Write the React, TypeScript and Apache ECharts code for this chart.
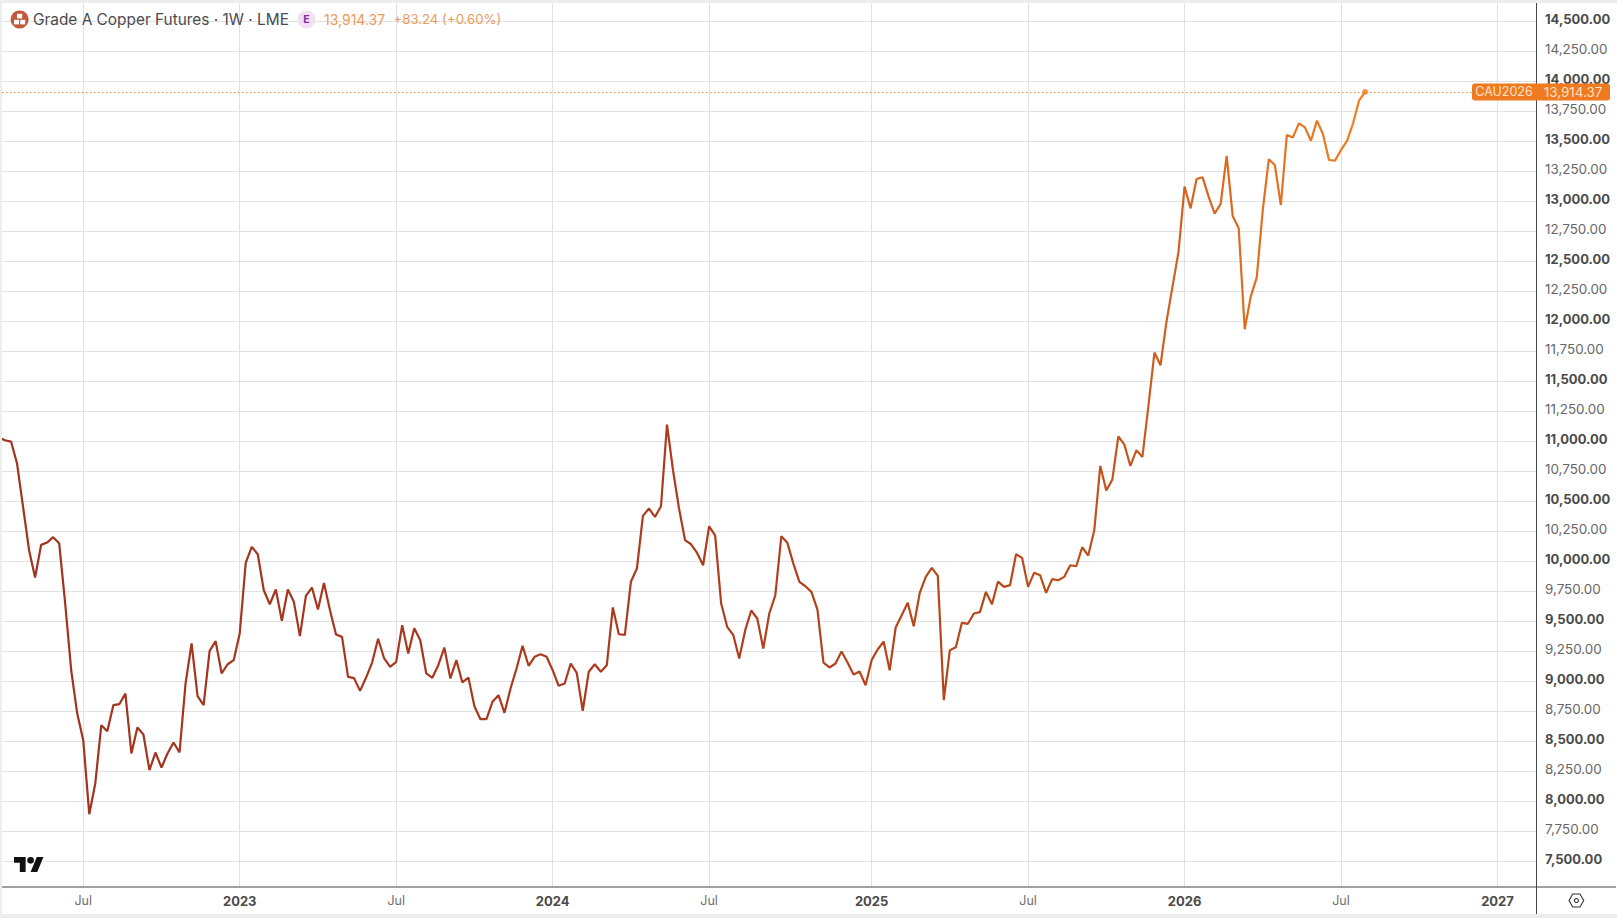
import React, { useEffect, useRef } from "react";
import * as echarts from "echarts";

const WEEK = 7 * 24 * 3600 * 1000;
const firstWeek = Date.UTC(2022, 2, 28);

// weekly closes
const closes = [
  11033, 11011, 11000, 10817, 10456, 10094, 9867, 10139, 10158, 10203, 10153, 9650, 9094, 8733, 8511,
  7894, 8150, 8636, 8586, 8803, 8811, 8900, 8400, 8617, 8558, 8261, 8408, 8283, 8400, 8492, 8408, 8983,
  9317, 8878, 8803, 9256, 9336, 9067, 9144, 9178, 9400, 9989, 10122, 10061, 9761, 9644, 9767, 9506, 9767,
  9664, 9378, 9714, 9783, 9600, 9822, 9594, 9392, 9372, 9039, 9028, 8922, 9033, 9158, 9356, 9192, 9122,
  9164, 9469, 9233, 9444, 9344, 9067, 9031, 9136, 9283, 9025, 9178, 8992, 9033, 8794, 8686, 8686, 8831,
  8886, 8739, 8942, 9108, 9297, 9131, 9206, 9228, 9206, 9094, 8964, 8983, 9150, 9072, 8756, 9081, 9144,
  9081, 9136, 9617, 9394, 9389, 9831, 9942, 10381, 10442, 10372, 10461, 11142, 10761, 10442, 10178, 10144,
  10072, 9969, 10294, 10219, 9650, 9456, 9389, 9192, 9428, 9592, 9525, 9275, 9567, 9719, 10211, 10156,
  9983, 9831, 9794, 9747, 9600, 9158, 9117, 9150, 9250, 9158, 9058, 9083, 8969, 9178, 9267, 9333, 9094,
  9450, 9553, 9656, 9461, 9739, 9872, 9947, 9881, 8844, 9261, 9286, 9489, 9481, 9567, 9578, 9747, 9644,
  9833, 9789, 9803, 10061, 10031, 9789, 9906, 9886, 9739, 9853, 9844, 9872, 9969, 9961, 10119, 10050,
  10261, 10797, 10592, 10683, 11044, 10975, 10797, 10928, 10872, 11300, 11742, 11636, 12000, 12292, 12583,
  13125, 12944, 13189, 13203, 13042, 12900, 12981, 13381, 12881, 12778, 11936, 12208, 12369, 12931, 13353,
  13306, 12972, 13556, 13536, 13653, 13619, 13508, 13675, 13564, 13347, 13342, 13431, 13506, 13653, 13842,
  13914.37,
];

const tickDates = [
  Date.UTC(2022, 6, 4), Date.UTC(2023, 0, 2), Date.UTC(2023, 6, 3), Date.UTC(2024, 0, 1), Date.UTC(2024, 6, 1),
  Date.UTC(2025, 0, 6), Date.UTC(2025, 6, 7), Date.UTC(2026, 0, 5), Date.UTC(2026, 6, 6), Date.UTC(2027, 0, 4),
];
const tickLabels = ["Jul", "2023", "Jul", "2024", "Jul", "2025", "Jul", "2026", "Jul", "2027"];
const priceTicks = [
  7500, 7750, 8000, 8250, 8500, 8750, 9000, 9250, 9500, 9750, 10000, 10250, 10500, 10750, 11000, 11250, 11500,
  11750, 12000, 12250, 12500, 12750, 13000, 13250, 13500, 13750, 14000, 14250, 14500,
];
const lastPrice = 13914.37;
const title = "Grade A Copper Futures · 1W · LME";

const UI_FONT = "Inter, Roboto, sans-serif";
const LOGO =
  "M14 22H7V11H0V4h14v18zM28 22h-8l7.5-18h8L28 22zM24 8a4 4 0 1 1-8 0a4 4 0 1 1 8 0z";
echarts.graphic.registerShape("tvLogo", echarts.graphic.extendPath(LOGO, {}));

const fmt = (v: number) =>
  v.toLocaleString("en-US", { minimumFractionDigits: 2, maximumFractionDigits: 2 });

export default function App() {
  const chartRef = useRef<HTMLDivElement>(null);

  useEffect(() => {
    if (!chartRef.current) return;
    const chart = echarts.init(chartRef.current, undefined, { renderer: "svg" });
    const points = closes.map((c, i) => [firstWeek + i * WEEK, c]);
    const last = points[points.length - 1];

    chart.setOption({
      animation: false,
      backgroundColor: "#fff",
      grid: { left: 2, right: 81, top: 3, bottom: 31 },
      xAxis: {
        type: "value",
        min: firstWeek + 0.5 * WEEK,
        max: firstWeek + 255.4 * WEEK,
        axisLine: { show: false },
        axisTick: { show: false, customValues: tickDates },
        splitLine: { show: true, lineStyle: { color: "#e2e2e5", width: 1 } },
        axisLabel: {
          customValues: tickDates,
          margin: 7,
          formatter: (v: number) => {
            const label = tickLabels[tickDates.indexOf(v)] ?? "";
            return label === "Jul" ? `{m|${label}}` : `{y|${label}}`;
          },
          rich: {
            m: { fontFamily: UI_FONT, fontSize: 12.5, color: "#707070" },
            y: { fontFamily: UI_FONT, fontSize: 13, fontWeight: 700, color: "#4a4a4a" },
          },
        },
      },
      yAxis: {
        type: "value",
        position: "right",
        min: 7287,
        max: 14656,
        axisLine: { show: false },
        axisTick: { show: false, customValues: priceTicks },
        splitLine: { show: true, lineStyle: { color: "#e2e2e5", width: 1 } },
        axisLabel: {
          customValues: priceTicks,
          margin: 9,
          padding: [0, 0, 5, 0],
          formatter: (v: number) => (v % 500 === 0 ? `{b|${fmt(v)}}` : `{n|${fmt(v)}}`),
          rich: {
            b: { fontFamily: UI_FONT, fontSize: 13, fontWeight: 700, color: "#4a4a4a" },
            n: { fontFamily: UI_FONT, fontSize: 13.4, color: "#666" },
          },
        },
      },
      series: [
        {
          type: "line",
          data: points,
          showSymbol: false,
          lineStyle: {
            width: 2.2,
            color: {
              type: "linear", x: 0, y: 0, x2: 1, y2: 0,
              colorStops: [
                { offset: 0, color: "#a0321f" },
                { offset: 0.5, color: "#ad3c1d" },
                { offset: 0.78, color: "#bb4c1a" },
                { offset: 0.88, color: "#d6661f" },
                { offset: 1, color: "#ef8022" },
              ],
            },
          },
          markLine: {
            silent: true,
            symbol: "none",
            data: [{ yAxis: lastPrice }],
            lineStyle: { type: [1.5, 2.5], color: "#ee8434", width: 1.2, opacity: 1 },
            label: {
              show: true,
              position: "end",
              distance: [-64, 0],
              formatter: () => `{a|CAU2026}{b|${fmt(lastPrice)}}`,
              rich: {
                a: { fontFamily: UI_FONT, fontSize: 12.5, color: "#fde3cc", backgroundColor: "#f07a1f", height: 17, lineHeight: 17, width: 64, align: "center", borderRadius: [3, 0, 0, 3] },
                b: { fontFamily: UI_FONT, fontSize: 13.4, color: "#fde3cc", backgroundColor: "#f07a1f", height: 17, lineHeight: 17, width: 74, align: "center", borderRadius: [0, 3, 3, 0] },
              },
            },
          },
          z: 3,
        },
        {
          type: "scatter",
          data: [last],
          symbol: "circle",
          symbolSize: 6,
          itemStyle: { color: "#ef8022" },
          z: 4,
        },
      ],
      graphic: [
        // frame
        { type: "rect", shape: { x: 0, y: 0, width: 1617, height: 3 }, style: { fill: "#ededee" }, z: 10 },
        { type: "rect", shape: { x: 0, y: 0, width: 2, height: 918 }, style: { fill: "#ededee" }, z: 10 },
        { type: "rect", shape: { x: 0, y: 914, width: 1617, height: 4 }, style: { fill: "#ededee" }, z: 10 },
        { type: "line", shape: { x1: 2, y1: 887, x2: 1616, y2: 887 }, style: { stroke: "#45474b", lineWidth: 1 }, z: 9 },
        { type: "line", shape: { x1: 1536.5, y1: 3, x2: 1536.5, y2: 914 }, style: { stroke: "#45474b", lineWidth: 1 }, z: 1 },
        // header
        { type: "circle", shape: { cx: 19.6, cy: 19.4, r: 9 }, style: { fill: "#c15a3c" }, z: 10 },
        { type: "rect", shape: { x: 17, y: 13.8, width: 5.2, height: 4.6 }, style: { fill: "#fff" }, z: 11 },
        { type: "rect", shape: { x: 14, y: 19.8, width: 5, height: 4.6 }, style: { fill: "#fff" }, z: 11 },
        { type: "rect", shape: { x: 20.2, y: 19.8, width: 5, height: 4.6 }, style: { fill: "#fff" }, z: 11 },
        { type: "text", x: 33, y: 19, style: { text: title, fontFamily: UI_FONT, fontSize: 15.4, fill: "#4b4b4f", verticalAlign: "middle" }, z: 10 },
        { type: "circle", shape: { cx: 306.5, cy: 19.4, r: 9 }, style: { fill: "#f0e1f3" }, z: 10 },
        { type: "text", x: 306.5, y: 19.4, style: { text: "E", fontFamily: UI_FONT, fontSize: 10.5, fontWeight: 700, fill: "#8a2aa8", align: "center", verticalAlign: "middle" }, z: 11 },
        { type: "text", x: 324, y: 19, style: { text: fmt(lastPrice), fontFamily: UI_FONT, fontSize: 14, fill: "#ee9a58", verticalAlign: "middle" }, z: 10 },
        { type: "text", x: 393.5, y: 19, style: { text: "+83.24 (+0.60%)", fontFamily: UI_FONT, fontSize: 13.2, fill: "#ee9a58", verticalAlign: "middle" }, z: 10 },
        // TradingView mark and settings button
        { type: "tvLogo", x: 14, y: 853.7, scaleX: 0.83, scaleY: 0.83, style: { fill: "#111" }, z: 10 },
        { type: "polygon", shape: { points: [[1569, 900.5], [1572.7, 894], [1580, 894], [1583.7, 900.5], [1580, 907], [1572.7, 907]] }, style: { fill: "none", stroke: "#333", lineWidth: 1.1 }, z: 10 },
        { type: "circle", shape: { cx: 1576.4, cy: 900.5, r: 2 }, style: { fill: "none", stroke: "#333", lineWidth: 1.1 }, z: 10 },
      ],
    });

    const handleResize = () => chart.resize();
    window.addEventListener("resize", handleResize);
    return () => {
      window.removeEventListener("resize", handleResize);
      chart.dispose();
    };
  }, []);

  return <div ref={chartRef} style={{ position: "fixed", left: 0, top: 0, width: 1617, height: 918 }} />;
}
